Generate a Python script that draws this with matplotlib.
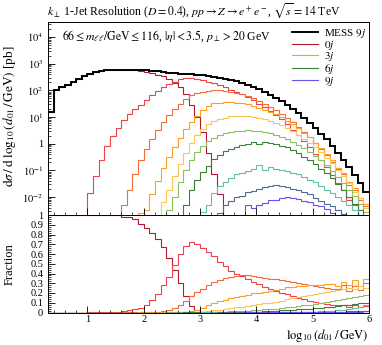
import numpy as np
import matplotlib
matplotlib.use("Agg")
import matplotlib.pyplot as plt
from matplotlib.ticker import LogLocator, FuncFormatter, MultipleLocator, NullFormatter, FixedLocator
from matplotlib.lines import Line2D

plt.rcParams['font.family'] = 'serif'
plt.rcParams['font.serif'] = ['Liberation Serif', 'DejaVu Serif']
plt.rcParams['mathtext.fontset'] = 'stix'

# ---------------- data (log10 of dsigma/dlog10(d01) [pb]) ----------------
bin_lo, bin_hi, n_bins = 0.3, 6.0, 57

total_mess = [1.20, 2.02, 2.12, 2.21, 2.32, 2.43, 2.53, 2.61, 2.68, 2.72,
              2.75, 2.77, 2.78, 2.78, 2.78, 2.77, 2.76, 2.75, 2.73, 2.71,
              2.69, 2.665, 2.645, 2.63, 2.615, 2.60, 2.585, 2.565, 2.54, 2.51,
              2.475, 2.435, 2.39, 2.34, 2.28, 2.21, 2.13, 2.04, 1.95, 1.84,
              1.73, 1.60, 1.46, 1.31, 1.15, 0.97, 0.79, 0.59, 0.38, 0.16,
              -0.08, -0.33, -0.60, -0.88, -1.18, -1.48, -1.80]

jet0 = [1.20, 2.02, 2.12, 2.21, 2.32, 2.43, 2.53, 2.61, 2.68, 2.72,
        2.75, 2.77, 2.78, 2.77, 2.77, 2.75, 2.72, 2.69, 2.64, 2.59,
        2.52, 2.41, 2.28, 2.11, 1.85, 1.45, 1.00, 0.45, -0.35, -1.15,
        -1.90, None, None, None, None, None, None, None, None, None,
        None, None, None, None, None, None, None, None, None, None,
        None, None, None, None, None, None, None]

jet1 = [None, None, None, None, None, None, None, -1.85, -1.20, -0.62,
        -0.10, 0.28, 0.60, 0.88, 1.11, 1.30, 1.45, 1.64, 1.84, 1.99,
        2.14, 2.23, 2.33, 2.41, 2.45, 2.46, 2.43, 2.385, 2.33, 2.27,
        2.19, 2.11, 2.02, 1.94, 1.85, 1.74, 1.62, 1.50, 1.37, 1.23,
        1.08, 0.91, 0.73, 0.53, 0.33, 0.10, -0.13, -0.37, -0.62, -0.89,
        -1.18, -1.46, -1.72, -2.10, -2.30, -2.75, -2.95]

jet2 = [None, None, None, None, None, None, None, None, None, None,
        None, None, None, -2.30, -1.75, -1.15, -0.62, -0.19, 0.18, 0.52,
        0.80, 1.06, 1.29, 1.50, 1.69, 1.82, 1.90, 1.95, 1.99, 2.00,
        2.00, 1.985, 1.95, 1.91, 1.86, 1.79, 1.70, 1.60, 1.50, 1.38,
        1.26, 1.12, 0.97, 0.80, 0.63, 0.43, 0.24, 0.02, -0.21, -0.44,
        -0.69, -0.95, -1.15, -1.54, -1.75, -2.12, -2.32]

jet3 = [None, None, None, None, None, None, None, None, None, None,
        None, None, None, None, None, None, -2.60, -2.50, -1.90, -1.38,
        -0.90, -0.48, -0.12, 0.22, 0.55, 0.82, 1.05, 1.25, 1.40, 1.51,
        1.54, 1.55, 1.55, 1.54, 1.51, 1.47, 1.42, 1.35, 1.28, 1.19,
        1.10, 0.99, 0.87, 0.73, 0.58, 0.41, 0.24, 0.04, -0.17, -0.38,
        -0.62, -0.90, -1.11, -1.43, -1.66, -2.05, -2.26]

jet4 = [None, None, None, None, None, None, None, None, None, None,
        None, None, None, None, None, None, None, None, None, None,
        -2.20, -1.75, -1.20, -0.75, -0.33, 0.02, 0.31, 0.55, 0.73, 0.85,
        0.92, 0.98, 1.02, 1.05, 1.05, 1.04, 1.01, 0.97, 0.92, 0.85,
        0.78, 0.69, 0.59, 0.47, 0.34, 0.19, 0.04, -0.13, -0.32, -0.52,
        -0.74, -0.97, -1.22, -1.48, -1.80, -2.05, -2.40]

jet5 = [None, None, None, None, None, None, None, None, None, None,
        None, None, None, None, None, None, None, None, None, None,
        None, -2.50, -2.00, -1.45, -1.00, -0.62, -0.32, -0.08, 0.10, 0.22,
        0.32, 0.39, 0.44, 0.47, 0.49, 0.50, 0.49, 0.47, 0.44, 0.40,
        0.34, 0.27, 0.18, 0.08, -0.03, -0.16, -0.30, -0.45, -0.62, -0.81,
        -1.01, -1.23, -1.47, -1.72, -1.97, -2.24, -2.55]

jet6 = [None, None, None, None, None, None, None, None, None, None,
        None, None, None, None, None, None, None, None, None, None,
        None, None, None, None, -2.30, -1.75, -1.35, -1.05, -0.82, -0.58,
        -0.42, -0.28, -0.20, -0.14, -0.05, -0.01, 0.05, 0.00, 0.05, 0.02,
        -0.01, -0.07, -0.14, -0.24, -0.36, -0.49, -0.62, -0.77, -0.93, -1.10,
        -1.30, -1.51, -1.74, -1.98, -2.24, -2.50, -2.80]

jet7 = [None, None, None, None, None, None, None, None, None, None,
        None, None, None, None, None, None, None, None, None, None,
        None, None, None, None, None, None, None, -2.55, -2.30, -1.85,
        -1.60, -1.42, -1.30, -1.15, -1.10, -1.02, -0.95, -0.80, -0.98, -0.88,
        -0.95, -0.98, -1.02, -1.08, -1.15, -1.25, -1.35, -1.45, -1.60, -1.72,
        -1.85, -2.00, -2.15, -2.30, -2.50, -2.70, -2.90]

jet8 = [None, None, None, None, None, None, None, None, None, None,
        None, None, None, None, None, None, None, None, None, None,
        None, None, None, None, None, None, None, None, None, None,
        -2.60, -2.30, -2.15, -2.00, -1.95, -1.80, -1.78, -1.70, -1.62, -1.60,
        -1.55, -1.58, -1.62, -1.68, -1.75, -1.82, -1.90, -2.05, -2.15, -2.25,
        -2.35, -2.50, -2.62, -2.80, -3.00, -3.30, -3.60]

jet9 = [None, None, None, None, None, None, None, None, None, None,
        None, None, None, None, None, None, None, None, None, None,
        None, None, None, None, None, None, None, None, None, None,
        None, None, None, None, None, -2.30, -2.40, -2.28, -2.22, -2.12,
        -2.10, -2.05, -2.00, -2.05, -2.08, -2.15, -2.20, -2.28, -2.35, -2.45,
        -2.58, -2.75, -2.90, -3.10, -3.30, -3.50, -3.70]

jet_series = [jet0, jet1, jet2, jet3, jet4, jet5, jet6, jet7, jet8, jet9]
jet_labels = [r'$%dj$' % k for k in range(10)]
jet_colors = ['#b3182c', '#f0414a', '#f26c35', '#ff9e1f', '#fdc650',
              '#8fbf63', '#3b7f3b', '#5fc2a0', '#4f6d8f', '#6a4ff0']
legend_jets = [0, 3, 6, 9]

x_major = [1, 2, 3, 4, 5, 6]
y_main_decades = [-2, -1, 0, 1, 2, 3, 4]
frac_ticks = [0, 0.1, 0.2, 0.3, 0.4, 0.5, 0.6, 0.7, 0.8, 0.9, 1.0]
frac_ticklabels = ['0', '0.1', '0.2', '0.3', '0.4', '0.5', '0.6', '0.7', '0.8', '0.9', '1']

# ---------------- helpers ----------------
edges = np.linspace(bin_lo, bin_hi, n_bins + 1)


def to_vals(lst):
    return np.array([np.nan if v is None else 10.0 ** v for v in lst])


tot = to_vals(total_mess)

# ---------------- figure ----------------
W, H = 382, 345
fig = plt.figure(figsize=(W / 100, H / 100), dpi=100)
ax = fig.add_axes([48 / W, 1 - 215 / H, 321 / W, 193 / H])
axr = fig.add_axes([48 / W, 1 - 312.5 / H, 321 / W, 97.5 / H], sharex=ax)

for k, (ser, col) in enumerate(zip(jet_series, jet_colors)):
    v = to_vals(ser)
    ax.stairs(np.nan_to_num(v, nan=1e-12), edges, color=col, lw=0.8, baseline=None)
    frac = np.nan_to_num(v, nan=0.0) / tot
    axr.stairs(frac, edges, color=col, lw=0.8, baseline=None)

ax.stairs(tot, edges, color='black', lw=1.4, baseline=None)

# main axis formatting
ax.set_yscale('log')
ax.set_xlim(bin_lo, bin_hi)
ax.set_ylim(10 ** -2.67, 10 ** 4.56)
ax.yaxis.set_major_locator(FixedLocator([10.0 ** d for d in y_main_decades]))
ax.yaxis.set_minor_locator(LogLocator(base=10, subs=np.arange(2, 10), numticks=20))
ax.yaxis.set_minor_formatter(NullFormatter())


def logfmt(v, pos):
    d = int(round(np.log10(v)))
    return '1' if d == 0 else r'$10^{%d}$' % d


ax.yaxis.set_major_formatter(FuncFormatter(logfmt))
ax.xaxis.set_major_locator(FixedLocator(x_major))
ax.xaxis.set_minor_locator(MultipleLocator(0.2))
ax.tick_params(axis='x', labelbottom=False)
for a in (ax, axr):
    a.tick_params(which='both', direction='in', top=False, right=False, labelsize=7.5)
    a.tick_params(which='major', length=5, width=0.6)
    a.tick_params(which='minor', length=2.5, width=0.5)
    for s in a.spines.values():
        s.set_linewidth(0.7)
axr.tick_params(axis='x', which='major', pad=1.5)

axr.set_ylim(0, 1)
axr.yaxis.set_major_locator(FixedLocator(frac_ticks))
axr.yaxis.set_major_formatter(FuncFormatter(lambda v, p: frac_ticklabels[int(round(v * 10))]))
axr.yaxis.set_minor_locator(MultipleLocator(0.02))
axr.xaxis.set_major_locator(FixedLocator(x_major))
axr.xaxis.set_minor_locator(MultipleLocator(0.2))

# labels
fig.text(47 / W, 1 - 11 / H, r'$k_\perp$ 1-Jet Resolution ($D = 0.4$), $pp \to Z \to e^+e^-$, $\sqrt{s} = 14$ TeV',
         ha='left', va='center', fontsize=8.5)
ax.text((62 - 48) / 321, 0.925,
        r'$66 \leq m_{\ell\ell}/\mathrm{GeV} \leq 116$, $|\eta| < 3.5$, $p_\perp > 20$ GeV',
        transform=ax.transAxes, ha='left', va='center', fontsize=8.5)
fig.text(10 / W, 1 - 116 / H,
         r'$\mathrm{d}\sigma\,/\,\mathrm{d}\;\log_{10}(d_{01}\,/\,\mathrm{GeV})$ [pb]',
         rotation=90, ha='center', va='center', fontsize=9.5)
fig.text(10 / W, 1 - 264 / H, 'Fraction', rotation=90, ha='center', va='center', fontsize=9)
fig.text(369 / W, 1 - 336 / H, r'$\log_{10}(d_{01}\,/\,\mathrm{GeV})$', ha='right', va='center', fontsize=9)

# legend
handles = [Line2D([], [], color='black', lw=1.4)] + \
          [Line2D([], [], color=jet_colors[k], lw=0.8) for k in legend_jets]
labels = [r'MESS $9j$'] + [jet_labels[k] for k in legend_jets]
ax.legend(handles, labels, loc='upper left', bbox_to_anchor=((292 - 48) / 321, 1 - (27 - 22) / 193),
          frameon=False, fontsize=8, handlelength=2.3, handletextpad=0.55,
          labelspacing=-0.12, borderpad=0, borderaxespad=0)

fig.savefig('out.png', dpi=100)
